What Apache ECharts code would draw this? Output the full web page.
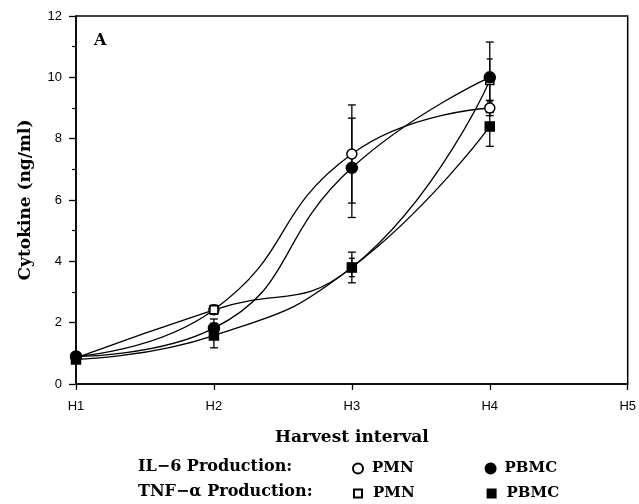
<!DOCTYPE html>
<html>
<head>
<meta charset="utf-8">
<script src="https://cdn.jsdelivr.net/npm/echarts@6/dist/echarts.min.js"></script>
<style>html,body{margin:0;padding:0;background:#fff;}#c{width:639px;height:504px;}</style>
</head>
<body>
<div id="c"></div>
<script>
const categories = ['H1', 'H2', 'H3', 'H4', 'H5'];
const yTicks = [0, 2, 4, 6, 8, 10, 12];

const il6PMN = [0.9, 2.42, 7.5, 9.0];
const il6PMNErr = [0.1, 0.15, 1.6, 0.25];
const il6PBMC = [0.9, 1.82, 7.05, 10.0];
const il6PBMCErr = [0.1, 0.3, 1.62, 1.15];
const tnfPMN = [0.85, 2.42, 3.8, 9.9];
const tnfPMNErr = [0.05, 0.1, 0.3, 0.7];
const tnfPBMC = [0.8, 1.58, 3.8, 8.4];
const tnfPBMCErr = [0.1, 0.4, 0.5, 0.65];

const serif = '"DejaVu Serif", serif';
const sans = '"Liberation Sans", Arial, sans-serif';

function errData(vals, errs) {
  return vals.map((v, i) => [i, v - errs[i], v + errs[i]]);
}
function errSeries(vals, errs, cap) {
  return {
    type: 'custom',
    silent: true,
    z: 1,
    data: errData(vals, errs),
    renderItem: function (params, api) {
      const x = api.value(0);
      const lo = api.coord([x, api.value(1)]);
      const hi = api.coord([x, api.value(2)]);
      const st = { stroke: '#000', lineWidth: 1.3 };
      return {
        type: 'group',
        children: [
          { type: 'line', shape: { x1: lo[0], y1: lo[1], x2: hi[0], y2: hi[1] }, style: st },
          { type: 'line', shape: { x1: lo[0] - cap, y1: lo[1], x2: lo[0] + cap, y2: lo[1] }, style: st },
          { type: 'line', shape: { x1: hi[0] - cap, y1: hi[1], x2: hi[0] + cap, y2: hi[1] }, style: st }
        ]
      };
    }
  };
}
function lineSeries(name, vals, symbol, size, fill) {
  return {
    name: name,
    type: 'line',
    smooth: 0.5,
    data: vals,
    symbol: symbol,
    symbolSize: size,
    z: 3,
    lineStyle: { color: '#000', width: 1.3 },
    itemStyle: { color: fill, borderColor: '#000', borderWidth: 1.5 }
  };
}

const chart = echarts.init(document.getElementById('c'), null, { renderer: 'canvas' });
chart.setOption({
  animation: false,
  backgroundColor: '#fff',
  grid: { left: 76, right: 9, top: 16, bottom: 120, show: true, borderColor: '#000', borderWidth: 1.5, backgroundColor: 'transparent' },
  xAxis: {
    type: 'category',
    data: categories,
    boundaryGap: false,
    name: 'Harvest interval',
    nameLocation: 'middle',
    nameGap: 45,
    nameTextStyle: { fontFamily: serif, fontWeight: 'bold', fontSize: 17, color: '#000' },
    axisLine: { lineStyle: { color: '#000', width: 1.5 } },
    axisTick: { show: true, length: 6, alignWithLabel: true, lineStyle: { color: '#000', width: 1.3 } },
    axisLabel: { color: '#000', fontFamily: sans, fontSize: 13, margin: 16 },
    splitLine: { show: false }
  },
  yAxis: {
    type: 'value',
    min: 0, max: 12, interval: 2,
    name: 'Cytokine (ng/ml)',
    nameLocation: 'middle',
    nameGap: 42,
    nameTextStyle: { fontFamily: serif, fontWeight: 'bold', fontSize: 17, color: '#000' },
    axisLine: { show: true, lineStyle: { color: '#000', width: 1.5 } },
    axisTick: { show: true, length: 7, lineStyle: { color: '#000', width: 1.3 } },
    minorTick: { show: true, splitNumber: 2, length: 4, lineStyle: { color: '#000', width: 1.2 } },
    axisLabel: { color: '#000', fontFamily: sans, fontSize: 13, margin: 14,
      formatter: v => (yTicks.indexOf(v) >= 0 ? String(v) : '') },
    splitLine: { show: false }
  },
  legend: [
    {
      data: [{ name: 'IL-6 PMN', icon: 'circle' }, { name: 'IL-6 PBMC', icon: 'circle' }],
      left: 347, top: 456, itemWidth: 10, itemHeight: 10, itemGap: 71,
      formatter: n => n.split(' ')[1],
      textStyle: { fontFamily: serif, fontWeight: 'bold', fontSize: 15, color: '#000', padding: [0, 0, 0, 4] },
      selectedMode: false
    },
    {
      data: [{ name: 'TNF PMN', icon: 'rect' }, { name: 'TNF PBMC', icon: 'rect' }],
      left: 348, top: 481, itemWidth: 8, itemHeight: 8, itemGap: 72,
      formatter: n => n.split(' ')[1],
      textStyle: { fontFamily: serif, fontWeight: 'bold', fontSize: 15, color: '#000', padding: [0, 0, 0, 6] },
      selectedMode: false
    }
  ],
  graphic: [
    { type: 'text', left: 138, top: 459, style: { text: 'IL\u22126 Production:', font: 'bold 16px ' + serif, fill: '#000' } },
    { type: 'text', left: 138, top: 484, style: { text: 'TNF\u2212\u03b1 Production:', font: 'bold 16px ' + serif, fill: '#000' } },
    { type: 'text', left: 94, top: 33, style: { text: 'A', font: 'bold 16px ' + serif, fill: '#000' } }
  ],
  series: [
    errSeries(il6PMN, il6PMNErr, 4),
    errSeries(il6PBMC, il6PBMCErr, 4),
    errSeries(tnfPMN, tnfPMNErr, 3),
    errSeries(tnfPBMC, tnfPBMCErr, 4),
    lineSeries('IL-6 PMN', il6PMN, 'circle', 10, '#fff'),
    lineSeries('TNF PMN', tnfPMN, 'rect', 8, '#fff'),
    lineSeries('IL-6 PBMC', il6PBMC, 'circle', 11, '#000'),
    lineSeries('TNF PBMC', tnfPBMC, 'rect', 9, '#000')
  ]
});
</script>
</body>
</html>
